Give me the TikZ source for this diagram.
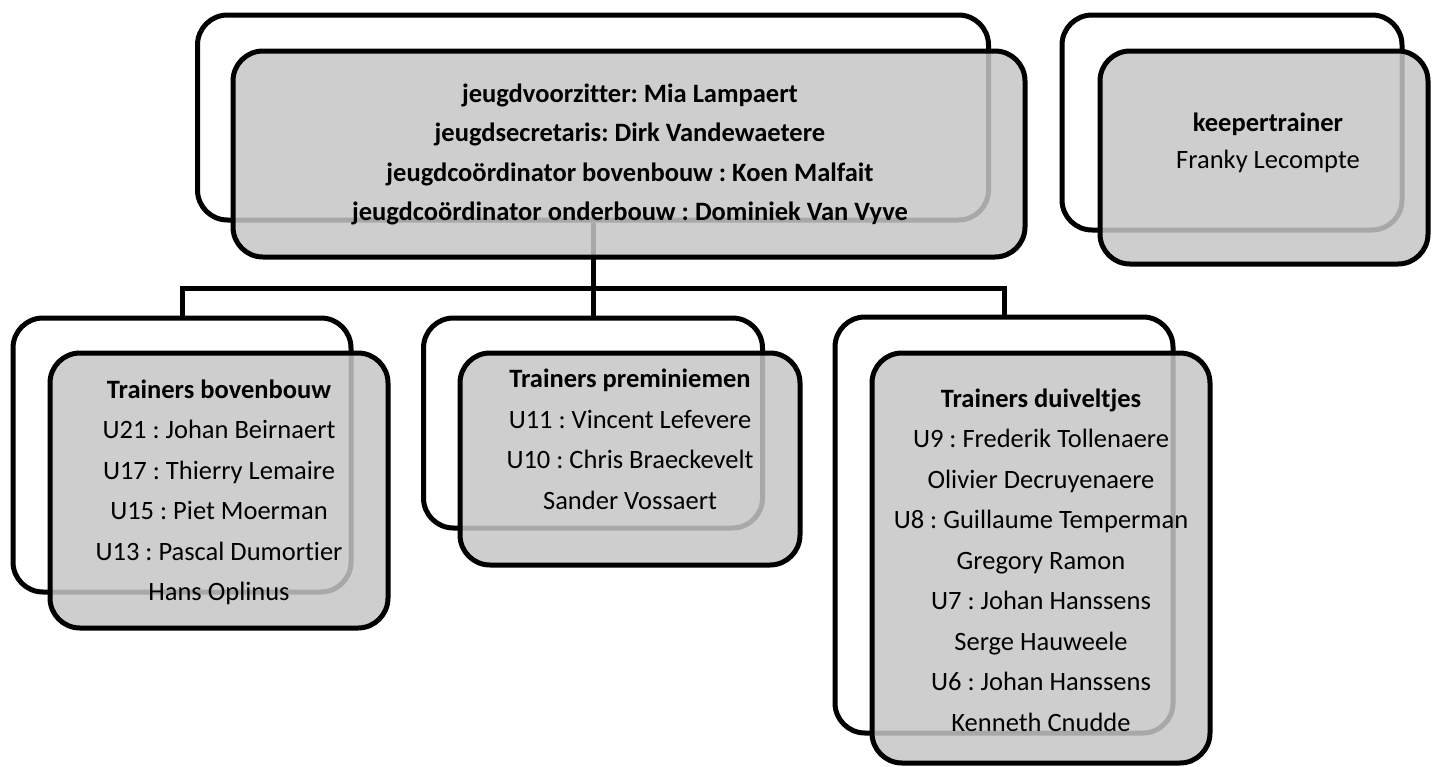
\documentclass[tikz,border=0pt]{standalone}
\usepackage{fontspec}
\setmainfont{Carlito}[Ligatures=NoCommon]
\begin{document}
\begin{tikzpicture}[x=1pt,y=-1pt,
  box/.style={draw=black, line width=5pt, rounded corners=30pt, inner sep=0pt},
  backbox/.style={box, fill=white},
  frontbox/.style={box, fill={rgb,255:red,198;green,198;blue,198}, fill opacity=0.85},
  link/.style={draw=black, line width=5pt},
  % multi-line texts are placed by the baseline of their last line
  txt/.style={align=center, inner sep=0pt, text opacity=1, anchor=base,
    font=\frenchspacing\fontsize{26.5}{40.5}\selectfont}]
\useasboundingbox (0,0) rectangle (1432,766);

% back layer of each card
\node[backbox, minimum width=791pt, minimum height=205pt] (boardB) at (593,117.5) {};
\node[backbox, minimum width=340pt, minimum height=215pt] (keeperB) at (1232,122.5) {};
\node[backbox, minimum width=338pt, minimum height=274pt] (bovenB) at (182,455) {};
\node[backbox, minimum width=339pt, minimum height=210pt] (premiB) at (593,423) {};
\node[backbox, minimum width=338pt, minimum height=416pt] (duivB) at (1004,525) {};

% tree connectors
\coordinate (split) at (boardB.south |- 0,288);
\draw[link] (boardB.south) -- (split);
\draw[link] (bovenB.north) |- (split) -| (duivB.north);
\draw[link] (split) -- (premiB.north);

% translucent front layer
\node[frontbox, minimum width=792pt, minimum height=206pt] (boardF) at (629,154) {};
\node[frontbox, minimum width=328pt, minimum height=213pt] (keeperF) at (1264,157.5) {};
\node[frontbox, minimum width=338pt, minimum height=275pt] (bovenF) at (219,490.5) {};
\node[frontbox, minimum width=340pt, minimum height=212pt] (premiF) at (630,459) {};
\node[frontbox, minimum width=338pt, minimum height=410pt] (duivF) at (1041,558) {};

% card texts
\node[txt, font=\bfseries\frenchspacing\fontsize{26.5}{39.5}\selectfont] (boardT) at (630,220.5)
  {jeugdvoorzitter: Mia Lampaert\\jeugdsecretaris: Dirk Vandewaetere\\
   jeugdco\"ordinator bovenbouw : Koen Malfait\\jeugdco\"ordinator onderbouw : Dominiek Van Vyve};
\node[txt, font=\frenchspacing\fontsize{26.5}{37}\selectfont] (keeperT) at (1268,168)
  {\textbf{keepertrainer}\\Franky Lecompte};
\node[txt] (bovenT) at (219,600.5)
  {\textbf{Trainers bovenbouw}\\U21 : Johan Beirnaert\\U17 : Thierry Lemaire\\U15 : Piet Moerman\\
   U13 : Pascal Dumortier\\Hans Oplinus};
\node[txt] (premiT) at (630,509)
  {\textbf{Trainers preminiemen}\\U11 : Vincent Lefevere\\U10 : Chris Braeckevelt\\Sander Vossaert};
\node[txt] (duivT) at (1041,731)
  {\textbf{Trainers duiveltjes}\\U9 : Frederik Tollenaere\\Olivier Decruyenaere\\U8 : Guillaume Temperman\\
   Gregory Ramon\\U7 : Johan Hanssens\\Serge Hauweele\\U6 : Johan Hanssens\\Kenneth Cnudde};
\end{tikzpicture}
\end{document}
